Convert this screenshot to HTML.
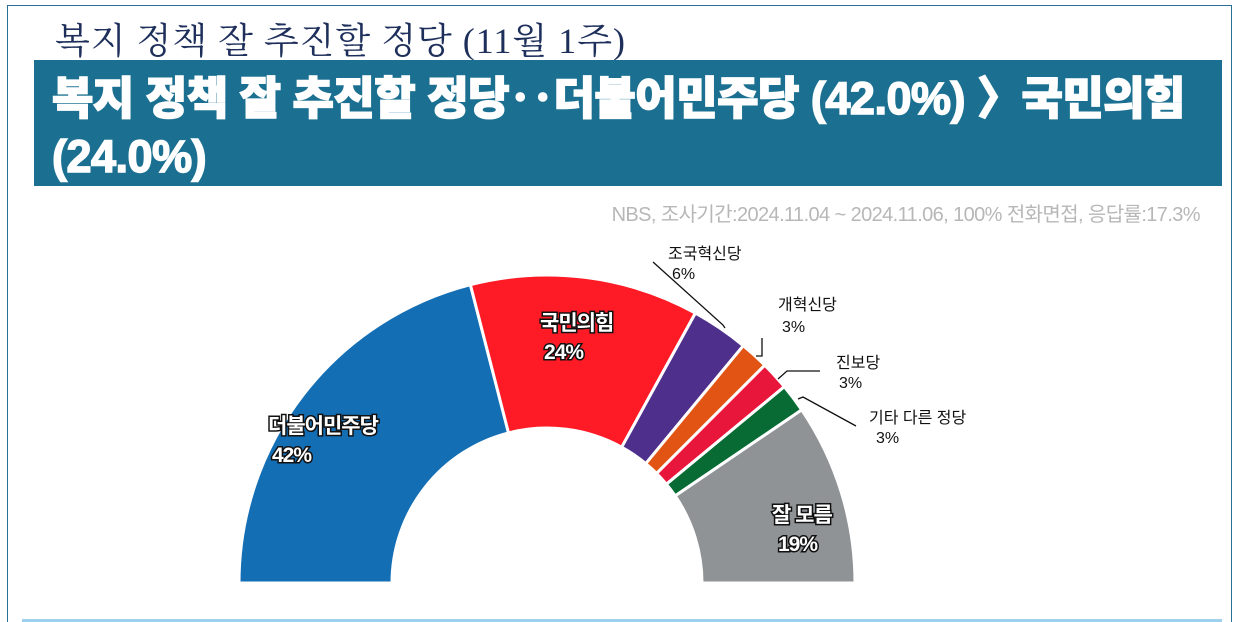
<!DOCTYPE html>
<html style="width:1245px;height:622px;overflow:hidden"><head><meta charset="utf-8"><style>
body{margin:0;width:1245px;height:622px;overflow:hidden;background:#fff;position:relative;font-family:"Liberation Sans","Noto Sans CJK KR",sans-serif}
.frame{position:absolute;left:7px;top:5px;width:1225px;height:617px;border:1.5px solid #2a6f95;border-bottom:none;box-sizing:border-box}
.t1{position:absolute;left:55px;top:13px;font-family:"Liberation Serif","Noto Serif CJK SC",serif;font-size:36px;color:#1d2f5a;letter-spacing:1px;white-space:nowrap}
.ban{position:absolute;left:34px;top:60px;width:1188px;height:126px;background:#1b7091}
.bt{position:absolute;left:52px;top:70px;font-size:45px;font-weight:900;color:#fff;line-height:58px;letter-spacing:-0.5px;-webkit-text-stroke:1.5px #fff;white-space:nowrap}
.src{position:absolute;right:45px;top:198px;font-size:20px;color:#b7b7b7;letter-spacing:-0.6px;white-space:nowrap}
.bl{position:absolute;left:22px;top:619px;width:1200px;height:3px;background:#9fd0ee}
</style></head><body>
<div class="frame"></div>
<div class="t1">복지 정책 잘 추진할 정당 (11월 1주)</div>
<div class="ban"></div>
<div class="bt">복지 정책 잘 추진할 정당‥더불어민주당 (42.0%) 〉국민의힘<br>(24.0%)</div>
<div class="src">NBS, 조사기간:2024.11.04 ~ 2024.11.06, 100% 전화면접, 응답률:17.3%</div>
<svg id="s" width="1245" height="622" style="position:absolute;left:0;top:0"></svg>
<div class="bl"></div>
<script>
var cx=547,cy=583,R=308,r=155;
var d=[[42,"#146eb4"],[24,"#fe1b26"],[6,"#4e2f8c"],[3,"#e25414"],[3,"#e8163a"],[3,"#076b33"],[19,"#8f9396"]];
var s="",a=0;
function p(ang,rad){var t=Math.PI*ang/180;return (cx-rad*Math.cos(t)).toFixed(1)+","+(cy-rad*Math.sin(t)).toFixed(1);}
d.forEach(function(v){var b=a+v[0]*1.8;
s+='<path d="M'+p(a,r)+' L'+p(a,R)+' A'+R+','+R+' 0 0 1 '+p(b,R)+' L'+p(b,r)+' A'+r+','+r+' 0 0 0 '+p(a,r)+' Z" fill="'+v[1]+'" stroke="#fff" stroke-width="3" stroke-linejoin="round"/>';a=b;});
s+='<g stroke="#111" stroke-width="1.3" fill="none"><polyline points="653,262 723,325 725,328"/><polyline points="762,338 762,356 756,356"/><polyline points="820,371 787,371 778,379"/><polyline points="856,426 803,397 798,399"/></g>';
s+='<g font-size="16" fill="#111"><text x="668" y="259">조국혁신당</text><text x="672" y="279">6%</text><text x="778" y="310">개혁신당</text><text x="782" y="332">3%</text><text x="836" y="368">진보당</text><text x="839" y="388">3%</text><text x="869" y="423">기타 다른 정당</text><text x="876" y="443">3%</text></g>';
s+='<g font-size="21" font-weight="bold" fill="#fff" stroke="#111" stroke-width="3" paint-order="stroke" letter-spacing="-1"><text x="268" y="433">더불어민주당</text><text x="272" y="462">42%</text><text x="540" y="330">국민의힘</text><text x="544" y="359">24%</text><text x="772" y="522">잘 모름</text><text x="778" y="551">19%</text></g>';
document.getElementById("s").innerHTML=s;
</script>
</body></html>
